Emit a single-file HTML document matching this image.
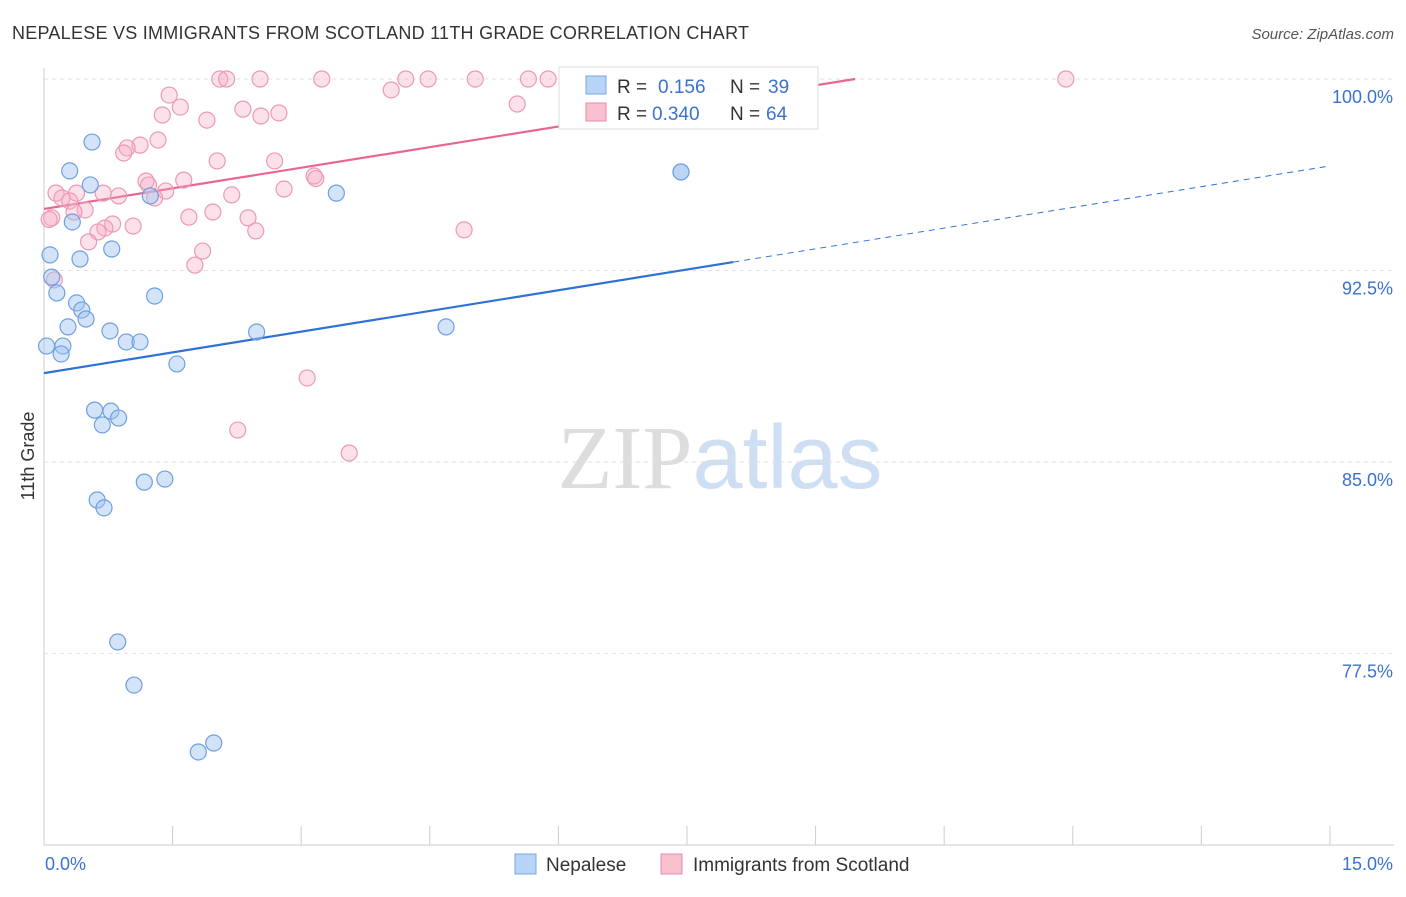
<!DOCTYPE html>
<html><head><meta charset="utf-8"><style>
body{margin:0;background:#fff;font-family:"Liberation Sans",sans-serif;}
svg text{font-family:"Liberation Sans",sans-serif;}
</style></head><body>
<svg id="chart" width="1406" height="892" xmlns="http://www.w3.org/2000/svg">
<text x="12" y="39" font-size="18" fill="#333" textLength="737" lengthAdjust="spacing">NEPALESE VS IMMIGRANTS FROM SCOTLAND 11TH GRADE CORRELATION CHART</text>
<text x="1394" y="39" font-size="15" fill="#555" text-anchor="end" font-style="italic">Source: ZipAtlas.com</text>
<text x="720" y="488" font-size="90" text-anchor="middle"><tspan fill="#ddd" font-family="Liberation Serif">ZIP</tspan><tspan fill="#cfdff3">atlas</tspan></text>
<text transform="translate(34,456) rotate(-90)" font-size="18" fill="#333" text-anchor="middle">11th Grade</text>
<g id="grid"></g><g id="axes"></g><g id="lines"></g><g id="points"></g>
<g>
<rect x="559" y="67" width="259" height="62" fill="#fff" stroke="#ddd"/>
<rect x="586" y="76" width="20" height="18" fill="#b7d3f5" stroke="#7aa7e0"/>
<text x="617" y="93" font-size="19" fill="#333">R =</text><text x="658" y="93" font-size="19" fill="#3a72d0">0.156</text>
<text x="730" y="93" font-size="19" fill="#333">N =</text><text x="768" y="93" font-size="19" fill="#3a72d0">39</text>
<rect x="586" y="103" width="20" height="18" fill="#f9c0d0" stroke="#e88aa6"/>
<text x="617" y="120" font-size="19" fill="#333">R =</text><text x="652" y="120" font-size="19" fill="#3a72d0">0.340</text>
<text x="730" y="120" font-size="19" fill="#333">N =</text><text x="766" y="120" font-size="19" fill="#3a72d0">64</text>
</g>
<g>
<rect x="515" y="854" width="21" height="20" fill="#b7d3f5" stroke="#7aa7e0"/>
<text x="546" y="871" font-size="19" fill="#333">Nepalese</text>
<rect x="661" y="854" width="21" height="20" fill="#f9c0d0" stroke="#e88aa6"/>
<text x="693" y="871" font-size="19" fill="#333">Immigrants from Scotland</text>
</g>
</svg>
<script>
const xTicks=[0,1.5,3,4.5,6,7.5,9,10.5,12,13.5,15];
const yTicks=[77.5,85,92.5,100];
const yTickLabels=["77.5%","85.0%","92.5%","100.0%"];
const blueX=[0.56,0.30,0.54,1.24,3.41,7.43,0.33,0.07,0.42,0.79,0.09,0.15,1.29,0.38,0.44,0.49,0.28,0.77,2.48,4.69,0.03,0.22,0.20,0.96,1.12,1.55,0.59,0.78,0.68,0.87,1.17,1.41,0.62,0.70,0.86,1.05,1.98,1.80,7.43];
const blueY=[97.53,96.40,95.85,95.42,95.53,96.36,94.40,93.11,92.95,93.34,92.24,91.62,91.50,91.23,90.95,90.60,90.29,90.13,90.09,90.29,89.54,89.54,89.23,89.70,89.70,88.84,87.03,86.99,86.45,86.72,84.21,84.33,83.51,83.20,77.95,76.26,73.99,73.64,96.36];
const pinkX=[2.05,2.13,2.52,3.24,4.22,4.48,5.03,5.65,5.88,11.92,1.46,4.05,1.59,2.32,2.53,2.74,1.38,1.90,5.52,1.33,1.12,0.97,0.93,2.02,2.69,3.15,1.19,1.63,1.22,1.42,1.29,0.14,0.38,0.69,0.87,2.19,2.80,0.21,0.30,0.48,0.35,0.09,1.69,1.97,2.38,0.80,0.71,1.04,0.63,2.47,4.90,0.52,1.85,1.76,0.12,3.07,2.26,3.56,0.06,3.17];
const pinkY=[100,100,100,100,100,100,100,100,100,100,99.37,99.57,98.90,98.82,98.55,98.67,98.59,98.39,99.02,97.61,97.41,97.30,97.10,96.79,96.79,96.20,96.00,96.04,95.85,95.61,95.34,95.53,95.53,95.53,95.42,95.46,95.69,95.34,95.22,94.87,94.79,94.56,94.59,94.79,94.56,94.32,94.16,94.24,94.01,94.05,94.09,93.62,93.26,92.71,92.13,88.29,86.25,85.35,94.5,96.1];
const blueTrend=[88.48,0.541];
const pinkTrend=[94.91,0.538];
const NS="http://www.w3.org/2000/svg";
const X=v=>44+v*85.73, Y=v=>79+(100-v)*25.53;
function mk(t,a,p){const e=document.createElementNS(NS,t);for(const k in a)e.setAttribute(k,a[k]);document.getElementById(p).appendChild(e);return e;}
yTicks.forEach((t,i)=>{
 const g=mk('line',{x1:44,x2:1394,y1:Y(t),y2:Y(t),stroke:'#e2e2e2','stroke-dasharray':'4,4'},'grid');
 
 
 const l=mk('text',{x:1393,y:Y(t)+24,'font-size':18,fill:'#3a72d0','text-anchor':'end'},'axes');l.textContent=yTickLabels[i];
 
 
});
mk('line',{x1:44,x2:44,y1:68,y2:845,stroke:'#ccc'},'axes');
mk('line',{x1:44,x2:1394,y1:845,y2:845,stroke:'#ccc'},'axes');
xTicks.forEach(t=>{const e=mk('line',{x1:X(t),x2:X(t),y1:826,y2:845,stroke:'#ccc'},'axes');
 
 });
let a=mk('text',{x:45,y:870,'font-size':18,fill:'#3a72d0'},'axes');a.textContent="0.0%";


a=mk('text',{x:1393,y:870,'font-size':18,fill:'#3a72d0','text-anchor':'end'},'axes');a.textContent="15.0%";


let bl=mk('line',{x1:X(0),y1:Y(blueTrend[0]),x2:X(8.04),y2:Y(blueTrend[0]+blueTrend[1]*8.04),stroke:'#2f72d6','stroke-width':2.2},'lines');


bl=mk('line',{x1:X(8.04),y1:Y(blueTrend[0]+blueTrend[1]*8.04),x2:X(15),y2:Y(blueTrend[0]+blueTrend[1]*15),stroke:'#2f72d6','stroke-width':1,'stroke-dasharray':'6,5'},'lines');


const pend=(100-pinkTrend[0])/pinkTrend[1];
let pl=mk('line',{x1:X(0),y1:Y(pinkTrend[0]),x2:X(pend),y2:Y(100),stroke:'#e8668f','stroke-width':2.2},'lines');


pinkX.forEach((x,i)=>{const c=mk('circle',{cx:X(x),cy:Y(pinkY[i]),r:8,fill:'rgba(246,170,195,0.35)',stroke:'#eb9ab4','stroke-width':1.2},'points');
 
 });
blueX.forEach((x,i)=>{const c=mk('circle',{cx:X(x),cy:Y(blueY[i]),r:8,fill:'rgba(160,196,240,0.45)',stroke:'#6e9fe0','stroke-width':1.2},'points');
 
 });
</script>
</body></html>
